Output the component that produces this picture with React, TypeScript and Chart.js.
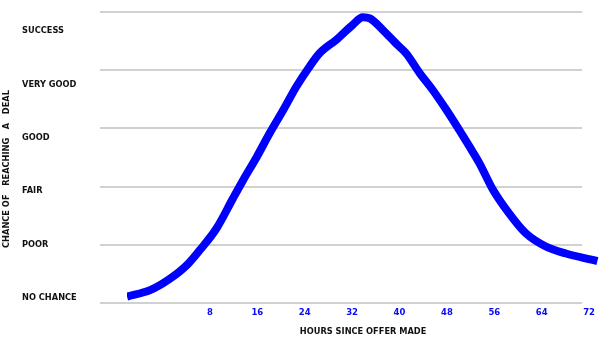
import React, { useEffect, useRef } from "react";
import { Chart, registerables } from "chart.js";

Chart.register(...registerables);

// Data
const hours = [
  -6.0, -2.1, 1.3, 4.1, 6.3, 9.1, 11.9, 13.6, 15.9, 18.1, 20.4, 22.6, 24.8, 26.5,
  29.3, 32.1, 33.8, 35.0, 37.2, 39.4, 41.1, 43.4, 45.6, 47.9, 50.1, 51.8, 53.5,
  55.7, 58.5, 61.3, 64.7, 68.1, 72.6, 73.4,
];
const chance = [
  0.11, 0.22, 0.42, 0.65, 0.91, 1.28, 1.8, 2.11, 2.51, 2.92, 3.32, 3.72, 4.06, 4.29,
  4.52, 4.78, 4.91, 4.89, 4.69, 4.46, 4.29, 3.95, 3.66, 3.32, 2.97, 2.69, 2.4,
  1.96, 1.54, 1.2, 0.97, 0.85, 0.74, 0.72,
];
const xTicks = [8, 16, 24, 32, 40, 48, 56, 64, 72];
const gridValues = [0, 1, 2, 3, 4, 5];
const levelLabels = ["NO CHANCE", "POOR", "FAIR", "GOOD", "VERY GOOD", "SUCCESS"];
const xTitle = "HOURS SINCE OFFER MADE";
const yTitle = "CHANCE OF   REACHING   A   DEAL";

const FONT = "'DejaVu Sans', Verdana, sans-serif";
const LINE_COLOR = "#0000ff";
const TICK_BLUE = "#0a0af5";
const GRID_COLOR = "#c2c2c2";

const gridPlugin = {
  id: "refGrid",
  beforeDatasetsDraw(chart: any) {
    const { ctx, chartArea, scales } = chart;
    const y = scales.y;
    ctx.save();
    ctx.strokeStyle = GRID_COLOR;
    ctx.lineWidth = 1.5;
    gridValues.forEach((v) => {
      const py = Math.round(y.getPixelForValue(v));
      ctx.beginPath();
      ctx.moveTo(chartArea.left - 27, py);
      ctx.lineTo(chartArea.right - 17, py);
      ctx.stroke();
    });
    ctx.restore();
  },
};

export default function App() {
  const ref = useRef<HTMLCanvasElement | null>(null);

  useEffect(() => {
    if (!ref.current) return;
    const chart = new Chart(ref.current, {
      type: "line",
      data: {
        datasets: [
          {
            data: hours.map((h, i) => ({ x: h, y: chance[i] })),
            borderColor: LINE_COLOR,
            borderWidth: 8,
            pointRadius: 0,
            cubicInterpolationMode: "monotone",
            borderJoinStyle: "round",
            fill: false,
          },
        ],
      },
      options: {
        animation: false,
        responsive: false,
        devicePixelRatio: 1,
        layout: { padding: { top: 12, right: 0, bottom: 0, left: 0 } },
        plugins: {
          legend: { display: false },
          tooltip: { enabled: false },
        },
        scales: {
          x: {
            type: "linear",
            min: -6.0,
            max: 73.7,
            grid: { display: false, drawTicks: false },
            border: { display: false },
            afterBuildTicks: (s: any) => {
              s.ticks = xTicks.map((v) => ({ value: v }));
            },
            afterFit: (s: any) => {
              s.height = 39;
            },
            ticks: {
              color: TICK_BLUE,
              font: { family: FONT, size: 8.5, weight: "bold" },
              padding: 5,
              maxRotation: 0,
              autoSkip: false,
            },
            title: {
              display: true,
              text: xTitle,
              color: "#111",
              font: { family: FONT, size: 8.25, weight: "bold" },
              padding: { top: 0, bottom: 5 },
            },
          },
          y: {
            type: "linear",
            position: "left",
            weight: 0,
            min: 0,
            max: 5,
            grid: { display: false },
            border: { display: false },
            ticks: { display: false },
            afterFit: (s: any) => {
              s.width = 0;
            },
          },
          y2: {
            type: "linear",
            position: "left",
            weight: 1,
            min: -0.0936,
            max: 5.356,
            grid: { display: false },
            border: { display: false },
            afterBuildTicks: (s: any) => {
              s.ticks = gridValues.map((v) => ({ value: v }));
            },
            afterFit: (s: any) => {
              s.width = 105;
            },
            ticks: {
              crossAlign: "far",
              color: "#111",
              font: { family: FONT, size: 8.25, weight: "bold" },
              callback: (v: any) => levelLabels[Math.round(Number(v))] ?? "",
            },
          },
          y3: {
            type: "linear",
            position: "left",
            weight: 2,
            grid: { display: false },
            border: { display: false },
            ticks: { display: false },
            afterFit: (s: any) => {
              s.width = 22;
            },
            title: {
              display: true,
              text: yTitle + "        ",
              color: "#111",
              font: { family: FONT, size: 8.25, weight: "bold" },
              padding: { top: 2, bottom: 0 },
            },
          },
        },
      },
      plugins: [gridPlugin],
    } as any);
    return () => chart.destroy();
  }, []);

  return (
    <div style={{ position: "absolute", left: 0, top: 0, width: 600, height: 342, background: "#fff" }}>
      <canvas ref={ref} width={600} height={342} />
    </div>
  );
}
